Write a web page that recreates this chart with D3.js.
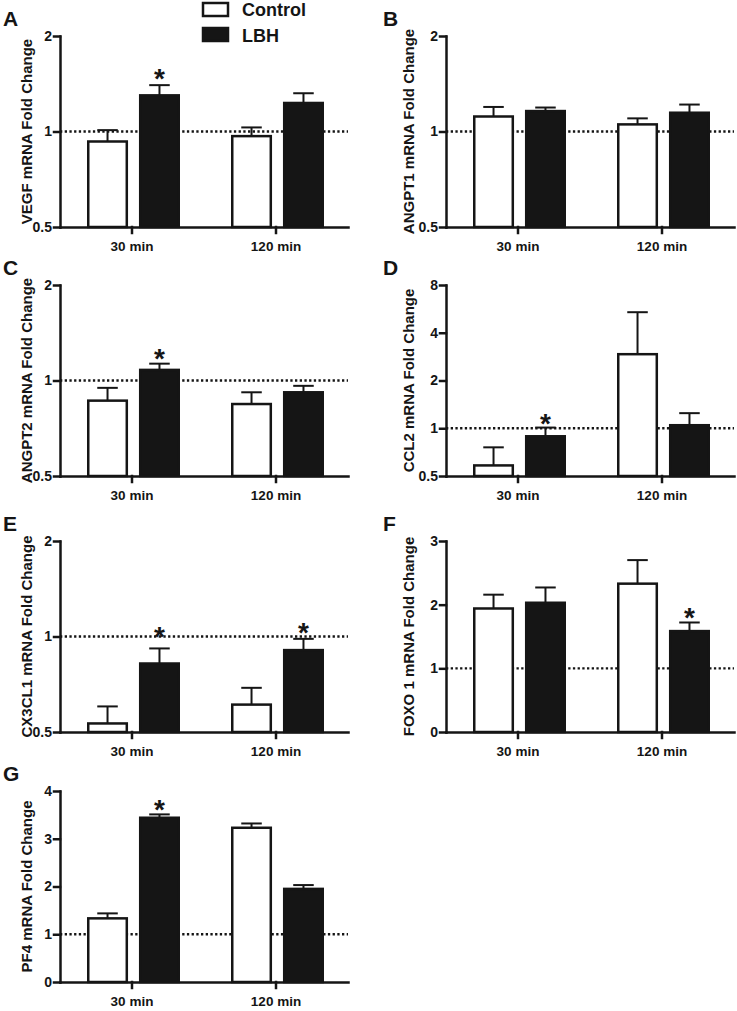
<!DOCTYPE html>
<html>
<head>
<meta charset="utf-8">
<script src="https://cdn.jsdelivr.net/npm/d3@7"></script>
<style>
html,body{margin:0;padding:0;background:#fff;}
svg{display:block;font-family:"Liberation Sans",Arial,sans-serif;font-weight:bold;}
</style>
</head>
<body>
<svg id="chart" width="737" height="1011"></svg>
<script>
// ---------- data ----------
const categories = ["30 min", "120 min"];
const groups = ["Control", "LBH"];
const panelLetters = ["A", "B", "C", "D", "E", "F", "G"];
const panelTitles = ["VEGF mRNA Fold Change", "ANGPT1 mRNA Fold Change", "ANGPT2 mRNA Fold Change",
  "CCL2 mRNA Fold Change", "CX3CL1 mRNA Fold Change", "FOXO 1 mRNA Fold Change", "PF4 mRNA Fold Change"];
const panelScaleTypes = ["log", "log", "log", "log", "log", "linear", "linear"];
const panelDomains = [[0.5, 2], [0.5, 2], [0.5, 2], [0.5, 8], [0.5, 2], [0, 3], [0, 4]];
const panelTicks = [[0.5, 1, 2], [0.5, 1, 2], [0.5, 1, 2], [0.5, 1, 2, 4, 8], [0.5, 1, 2], [0, 1, 2, 3], [0, 1, 2, 3, 4]];
const referenceLevel = 1;

// mean values per panel: [30 min, 120 min]
const controlMeans = [[0.93, 0.967], [1.115, 1.053], [0.864, 0.843], [0.583, 2.93], [0.532, 0.61], [1.94, 2.33], [1.333, 3.23]];
const controlSEM   = [[0.08, 0.063], [0.08, 0.047], [0.084, 0.075], [0.175, 2.46], [0.07, 0.079], [0.217, 0.37], [0.104, 0.09]];
const lbhMeans     = [[1.30, 1.23], [1.16, 1.146], [1.08, 0.918], [0.89, 1.045], [0.822, 0.906], [2.03, 1.585], [3.44, 1.95]];
const lbhSEM       = [[0.10, 0.09], [0.03, 0.07], [0.05, 0.044], [0.12, 0.20], [0.095, 0.077], [0.24, 0.135], [0.07, 0.08]];

// significance marks: panel index, category index, level (data units)
const starPanels = [0, 2, 3, 4, 4, 5, 6];
const starCategories = [0, 0, 0, 0, 1, 1, 0];
const starLevels = [1.54, 1.236, 1.19, 1.05, 1.08, 1.91, 3.76];

// ---------- layout ----------
const colX = [60, 446];
const plotW = 288;
const rowTop = [36, 285, 541, 791];
const plotH = 191;
const letterX = [3, 383];
const ink = "#151515";
const starSize = 28;

const svg = d3.select("#chart");

// legend
const legend = svg.append("g");
groups.forEach((g, i) => {
  legend.append("rect")
    .attr("x", 203).attr("y", i === 0 ? 3 : 28)
    .attr("width", 25).attr("height", 13)
    .attr("fill", i === 0 ? "#fff" : ink)
    .attr("stroke", ink).attr("stroke-width", 2.5);
  legend.append("text")
    .attr("x", 242).attr("y", i === 0 ? 16 : 42)
    .attr("font-size", 18).attr("fill", ink)
    .text(g);
});

panelLetters.forEach((letter, p) => {
  const col = p % 2, row = Math.floor(p / 2);
  const x0 = colX[col], top = rowTop[row], bottom = top + plotH;
  const g = svg.append("g");

  const y = panelScaleTypes[p] === "log"
    ? d3.scaleLog().base(2).domain(panelDomains[p]).range([bottom, top])
    : d3.scaleLinear().domain(panelDomains[p]).range([bottom, top]);
  const base = panelDomains[p][0];

  const x = d3.scaleBand().domain(categories).range([x0, x0 + plotW]).padding(0);
  const bw0 = x.bandwidth();
  const xg = d3.scaleBand().domain(groups)
    .range([bw0 * 27 / 144, bw0 * 120 / 144]).paddingInner(0.21);

  // panel letter
  g.append("text").attr("x", letterX[col]).attr("y", top - 10)
    .attr("font-size", 21).attr("fill", ink).text(letter);

  // reference dotted line
  g.append("line")
    .attr("x1", x0).attr("x2", x0 + plotW)
    .attr("y1", y(referenceLevel)).attr("y2", y(referenceLevel))
    .attr("stroke", ink).attr("stroke-width", 2.4)
    .attr("stroke-dasharray", "2.3,2.4");

  const rows = [];
  categories.forEach((c, ci) => {
    rows.push({cat: c, grp: "Control", mean: controlMeans[p][ci], sem: controlSEM[p][ci]});
    rows.push({cat: c, grp: "LBH", mean: lbhMeans[p][ci], sem: lbhSEM[p][ci]});
  });

  const bw = xg.bandwidth();
  // error bars (upper only)
  rows.forEach(d => {
    const cx = x(d.cat) + xg(d.grp) + bw / 2;
    g.append("line").attr("x1", cx).attr("x2", cx)
      .attr("y1", y(d.mean)).attr("y2", y(d.mean + d.sem))
      .attr("stroke", ink).attr("stroke-width", 2);
    g.append("line").attr("x1", cx - bw / 4).attr("x2", cx + bw / 4)
      .attr("y1", y(d.mean + d.sem)).attr("y2", y(d.mean + d.sem))
      .attr("stroke", ink).attr("stroke-width", 2);
  });
  // bars
  g.selectAll("rect.bar").data(rows).join("rect")
    .attr("class", "bar")
    .attr("x", d => x(d.cat) + xg(d.grp) + 1.25)
    .attr("width", bw - 2.5)
    .attr("y", d => y(d.mean))
    .attr("height", d => y(base) - y(d.mean))
    .attr("fill", d => d.grp === "Control" ? "#fff" : ink)
    .attr("stroke", ink).attr("stroke-width", 2.5);

  // axes
  const yAxis = d3.axisLeft(y).tickValues(panelTicks[p]).tickSize(6).tickSizeOuter(0)
    .tickFormat(d => String(d)).tickPadding(2);
  const ya = g.append("g").attr("transform", `translate(${x0},0)`).call(yAxis);
  ya.select(".domain").attr("stroke", ink).attr("stroke-width", 2.5);
  ya.selectAll(".tick line").attr("stroke", ink).attr("stroke-width", 2.5);
  ya.selectAll(".tick text").attr("font-size", 14).attr("font-family", null)
    .attr("font-weight", "bold").attr("fill", ink);

  const xAxis = d3.axisBottom(x).tickSize(6).tickSizeOuter(0).tickPadding(8);
  const xa = g.append("g").attr("transform", `translate(0,${bottom})`).call(xAxis);
  xa.select(".domain").attr("stroke", ink).attr("stroke-width", 2.5);
  xa.selectAll(".tick line").attr("stroke", ink).attr("stroke-width", 2.5);
  xa.selectAll(".tick text").attr("font-size", 13.5).attr("font-family", null)
    .attr("font-weight", "bold").attr("fill", ink);
  g.selectAll(".domain, .tick line").attr("stroke-linecap", "square");

  // y title
  g.append("text")
    .attr("transform", `translate(${x0 - (col === 0 ? 28 : 32)},${(top + bottom) / 2}) rotate(-90)`)
    .attr("text-anchor", "middle")
    .attr("font-size", 15).attr("fill", ink)
    .text(panelTitles[p]);

  // significance stars
  starPanels.forEach((sp, si) => {
    if (sp !== p) return;
    const cx = x(categories[starCategories[si]]) + xg("LBH") + bw / 2;
    g.append("text").attr("x", cx).attr("y", y(starLevels[si]) + starSize * 0.58)
      .attr("text-anchor", "middle").attr("font-size", starSize).attr("font-weight", "bold")
      .attr("fill", ink).text("*");
  });
});
</script>
</body>
</html>
